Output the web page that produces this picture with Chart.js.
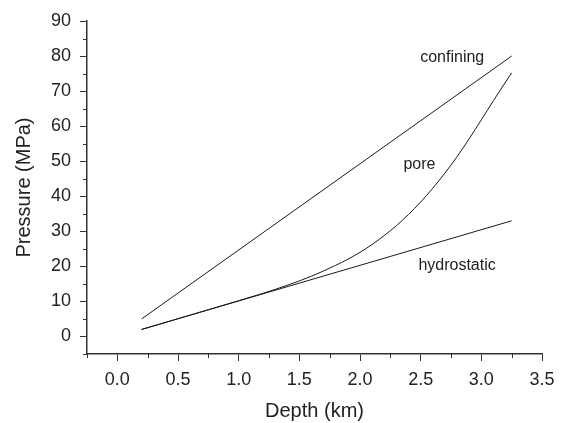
<!DOCTYPE html>
<html>
<head>
<meta charset="utf-8">
<script src="https://cdn.jsdelivr.net/npm/chart.js@4.4.1/dist/chart.umd.min.js"></script>
<style>
  html, body { margin: 0; padding: 0; background: #fff; }
  #wrap { width: 567px; height: 423px; position: relative; }
</style>
</head>
<body>
<div id="wrap"><canvas id="c" width="567" height="423"></canvas></div>
<script>
// ---- data ----
const confiningDepth = [0.2, 3.25];
const confiningPressure = [5, 80];
const hydroDepth = [0.2, 3.25];
const hydroPressure = [2, 33];
const poreDepth = [0.2, 0.6, 1.0, 1.2, 1.4, 1.6, 1.8, 2.0, 2.2, 2.4, 2.6, 2.8, 3.0, 3.1, 3.2, 3.25];
const porePressure = [2.0, 6.1, 10.2, 12.3, 14.6, 17.2, 20.3, 24.0, 28.8, 34.8, 42.3, 51.3, 61.8, 67.3, 72.6, 75.2];
const xTicks = [0.0, 0.5, 1.0, 1.5, 2.0, 2.5, 3.0, 3.5];
const yTicks = [0, 10, 20, 30, 40, 50, 60, 70, 80, 90];
const xMinorTicks = [-0.25, 0.25, 0.75, 1.25, 1.75, 2.25, 2.75, 3.25];
const yMinorTicks = [-5, 5, 15, 25, 35, 45, 55, 65, 75, 85];
const curveLabels = ['confining', 'pore', 'hydrostatic'];
const curveLabelX = [2.76, 2.49, 2.80];
const curveLabelY = [79.6, 49.0, 20.2];

const pts = (xs, ys) => xs.map((x, i) => ({ x: x, y: ys[i] }));
const ink = '#222222';
const FONT = "'Liberation Sans', Arial, sans-serif";

const minorTicksPlugin = {
  id: 'minorTicks',
  afterDraw(chart) {
    const ctx = chart.ctx;
    const xs = chart.scales.x, ys = chart.scales.y;
    const a = chart.chartArea;
    ctx.save();
    ctx.strokeStyle = '#333';
    ctx.lineWidth = 1;
    ctx.beginPath();
    xMinorTicks.forEach(v => {
      const px = Math.round(xs.getPixelForValue(v)) + 0.5;
      ctx.moveTo(px, a.bottom);
      ctx.lineTo(px, a.bottom + 4);
    });
    yMinorTicks.forEach(v => {
      const py = Math.round(ys.getPixelForValue(v)) + 0.5;
      ctx.moveTo(a.left, py);
      ctx.lineTo(a.left - 4, py);
    });
    ctx.stroke();
    ctx.restore();
  }
};

const curveLabelPlugin = {
  id: 'curveLabels',
  afterDatasetsDraw(chart) {
    const ctx = chart.ctx;
    const xs = chart.scales.x, ys = chart.scales.y;
    ctx.save();
    ctx.fillStyle = ink;
    ctx.font = "16px " + FONT;
    ctx.textAlign = 'center';
    ctx.textBaseline = 'middle';
    curveLabels.forEach((t, i) => {
      ctx.fillText(t, xs.getPixelForValue(curveLabelX[i]), ys.getPixelForValue(curveLabelY[i]));
    });
    ctx.restore();
  }
};

const lineStyle = { borderColor: '#1a1a1a', borderWidth: 1, pointRadius: 0, fill: false };

new Chart(document.getElementById('c'), {
  type: 'line',
  data: {
    datasets: [
      Object.assign({ label: 'confining', data: pts(confiningDepth, confiningPressure) }, lineStyle),
      Object.assign({ label: 'hydrostatic', data: pts(hydroDepth, hydroPressure) }, lineStyle),
      Object.assign({ label: 'pore', data: pts(poreDepth, porePressure), cubicInterpolationMode: 'monotone' }, lineStyle)
    ]
  },
  options: {
    responsive: false,
    animation: false,
    devicePixelRatio: 1,
    layout: { padding: { left: 0, top: 21, right: 25, bottom: 0 } },
    plugins: { legend: { display: false }, tooltip: { enabled: false } },
    scales: {
      x: {
        type: 'linear',
        min: -0.25,
        max: 3.5,
        afterBuildTicks: s => { s.ticks = xTicks.map(v => ({ value: v })); },
        afterFit: s => { s.height = 69; },
        ticks: {
          color: ink,
          font: { family: FONT, size: 18 },
          padding: 8,
          maxRotation: 0,
          callback: v => Number(v).toFixed(1)
        },
        grid: { display: true, drawOnChartArea: false, drawTicks: true, tickLength: 7, tickColor: '#333', tickWidth: 1 },
        border: { display: true, color: '#333', width: 1.5 },
        title: { display: true, text: 'Depth (km)', color: ink, font: { family: FONT, size: 20 }, padding: { top: 0, bottom: 0 } }
      },
      y: {
        type: 'linear',
        min: -5,
        max: 90,
        afterBuildTicks: s => { s.ticks = yTicks.map(v => ({ value: v })); },
        afterFit: s => { s.width = 87; },
        ticks: {
          color: ink,
          font: { family: FONT, size: 18 },
          padding: 9,
          callback: v => String(v)
        },
        grid: { display: true, drawOnChartArea: false, drawTicks: true, tickLength: 7, tickColor: '#333', tickWidth: 1 },
        border: { display: true, color: '#333', width: 1.5 },
        title: { display: true, text: 'Pressure (MPa)', color: ink, font: { family: FONT, size: 20 }, padding: { top: 12, bottom: 0 } }
      }
    }
  },
  plugins: [minorTicksPlugin, curveLabelPlugin]
});
</script>
</body>
</html>
